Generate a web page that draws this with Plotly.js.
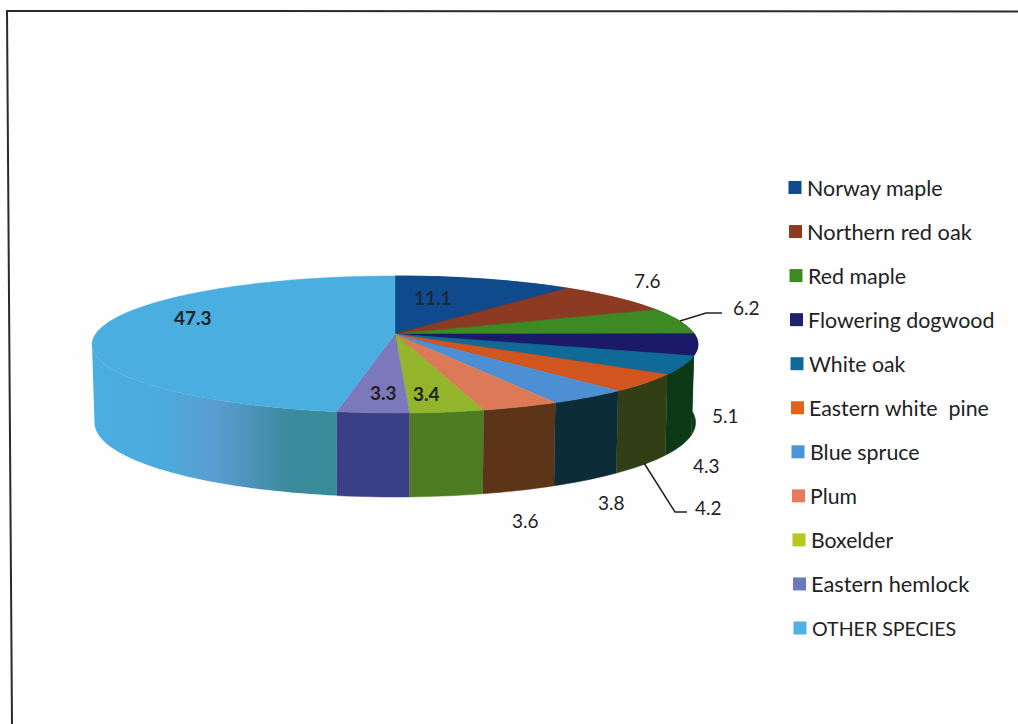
<!DOCTYPE html>
<html>
<head>
<meta charset="utf-8">
<script src="https://cdn.plot.ly/plotly-3.0.1.min.js"></script>
<style>html,body{margin:0;padding:0;background:#fff}#chart{width:1018px;height:724px}</style>
</head>
<body>
<div id="chart"></div>
<script>
// Data
var species = ["Norway maple","Northern red oak","Red maple","Flowering dogwood","White oak","Eastern white  pine","Blue spruce","Plum","Boxelder","Eastern hemlock","OTHER SPECIES"];
var shares = [11.1,7.6,6.2,5.1,4.3,4.2,3.8,3.6,3.4,3.3,47.3];
var valueLabels = ["11.1","7.6","6.2","5.1","4.3","4.2","3.8","3.6","3.4","3.3","47.3"];

// Styles
var topColors = ["#0f4a8c","#8c3a22","#3d8a25","#1a1a68","#0f6a98","#d0551e","#4c8fd2","#dc7a58","#92b52c","#7c78bc","#4aaee0"];
var sideColors = ["#0a2f58","#5a2516","#0e3d12","#0e3a14","#0d3a16","#323e16","#0c2c38","#5c3418","#4e7c22","#3b3f86","#4aa8da"];
var legendColors = ["#0f4a8c","#8c3a22","#3d8a25","#1f1f6e","#0f6a9c","#e0651a","#4a94d8","#e67a5e","#b8c81e","#6a78bc","#52b0e2"];
var legendFontSizes = [21.4,21.8,21.4,21.4,21.2,21.4,21.4,21.2,21.2,21.8,19.6];

// Label placement (pixels)
var labelX = [433,647,746,725,706,708,611,525,426,383,193];
var labelY = [297,280,307,415,465,507,502,520,393,392,317];
var labelBold = [true,false,false,false,false,false,false,false,true,true,true];

// Projection of the tilted disc
var cx=395, cy=334, A=299.4, B=66.9, K=0.153;
var leftSilhouetteDeg=261;
function proj(deg, bottom){
  var t=deg*Math.PI/180, u=Math.sin(t), v=Math.cos(t), d=1+K*v;
  var px=A*u/d, py=B*v/d;
  if(bottom){ return [cx+px*0.992, cy-py+77-7*v]; }
  return [cx+px, cy-py];
}
var total=shares.reduce(function(a,b){return a+b},0);
var traces=[], cum=0, wedges=[];
shares.forEach(function(s){ var a=cum/total*360; cum+=s; wedges.push([a,cum/total*360]); });

function arc(a0,a1,bottom){
  var out=[], n=Math.max(2,Math.ceil((a1-a0)/1.5));
  for(var i=0;i<=n;i++){ out.push(proj(a0+(a1-a0)*i/n,bottom)); }
  return out;
}
function poly(pts,color,name,extra){
  var tr={type:"scatter",mode:"lines",x:pts.map(function(p){return p[0]}),y:pts.map(function(p){return p[1]}),
    fill:"toself",fillcolor:color,line:{width:0.5,color:color,simplify:false},name:name,showlegend:false,hoverinfo:"name"};
  if(extra){ for(var k in extra){ tr[k]=extra[k]; } }
  return tr;
}
// side wall first; the top face is painted over it
wedges.forEach(function(w,i){
  var last=(i===wedges.length-1);
  var end=last?leftSilhouetteDeg:w[1];
  var pts=arc(w[0],end,false).concat(arc(w[0],end,true).reverse());
  var extra=last?{line:{width:0,simplify:false},fillgradient:{type:"horizontal",colorscale:[[0,"#4aaee0"],[0.28,"#4cabde"],[0.5,"#5a9dd0"],[0.66,"#4a93b8"],[0.8,"#3a8b9c"],[1,"#3a8b9a"]]}}:null;
  traces.push(poly(pts,sideColors[i],species[i]+" side",extra));
});
// top face
wedges.forEach(function(w,i){
  var pts=[[cx,cy]].concat(arc(w[0],w[1],false));
  pts.push([cx,cy]);
  traces.push(poly(pts,topColors[i],species[i]));
});
// legend swatches
var legendRows=species.map(function(_,i){return i});
var legendXStart=795, legendXStep=0.5, legendYStart=187.5, legendYStep=44.05;
traces.push({type:"scatter",mode:"markers",
  x:legendRows.map(function(i){return legendXStart+legendXStep*i}),
  y:legendRows.map(function(i){return legendYStart+legendYStep*i}),
  marker:{symbol:"square",size:13,color:legendColors,line:{width:0}},
  showlegend:false,hoverinfo:"skip"});

var font="Lato, 'Open Sans', sans-serif";
var annotations=[];
species.forEach(function(name,i){
  annotations.push({x:legendXStart+legendXStep*i+9.5,y:legendYStart+legendYStep*i,xref:"x",yref:"y",text:name,showarrow:false,
    xanchor:"left",yanchor:"middle",font:{family:font,size:legendFontSizes[i],color:"#222"}});
});
valueLabels.forEach(function(t,i){
  annotations.push({x:labelX[i],y:labelY[i],xref:"x",yref:"y",text:labelBold[i]?"<b>"+t+"</b>":t,showarrow:false,
    xanchor:"center",yanchor:"middle",font:{family:font,size:19,color:i===0?"#1a2a3a":"#222"}});
});

var shapes=[
  {type:"path",xref:"x",yref:"y",path:"M680,321 L706,313 L722,313",line:{color:"#222",width:1.5}},
  {type:"path",xref:"x",yref:"y",path:"M644,463 L675,512 L687,512",line:{color:"#222",width:1.5}},
  {type:"path",xref:"x",yref:"y",path:"M1018,11.5 L7,11 L12,724",line:{color:"#2a2a2a",width:2}}
];

var layout={width:1018,height:724,margin:{l:0,r:0,t:0,b:0},paper_bgcolor:"#fefefe",plot_bgcolor:"#fefefe",
  xaxis:{range:[0,1018],visible:false,fixedrange:true},
  yaxis:{range:[724,0],visible:false,fixedrange:true},
  showlegend:false,annotations:annotations,shapes:shapes};
Plotly.newPlot("chart",traces,layout,{displayModeBar:false,staticPlot:true});
</script>
</body>
</html>
